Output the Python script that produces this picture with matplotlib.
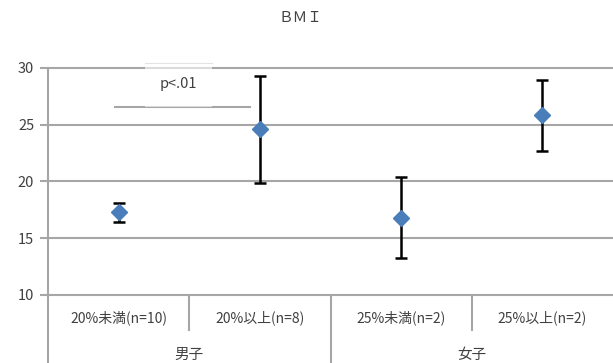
import matplotlib
matplotlib.use("Agg")
import matplotlib.pyplot as plt
from matplotlib.patches import Rectangle
import matplotlib.transforms as mtransforms

plt.rcParams['font.family'] = ['Noto Sans CJK JP', 'DejaVu Sans']

# BMI by body-fat group
categories = ["20%未満(n=10)", "20%以上(n=8)", "25%未満(n=2)", "25%以上(n=2)"]
groups = ["男子", "女子"]
means = [17.3, 24.6, 16.8, 25.9]
upper = [18.1, 29.3, 20.4, 28.9]
lower = [16.4, 19.9, 13.3, 22.7]
yticks = [10, 15, 20, 25, 30]

GRID = "#a6a6a6"
W, H, DPI = 613, 363, 100

fig = plt.figure(figsize=(W / DPI, H / DPI), dpi=DPI)
ax = fig.add_axes([48 / W, 1 - 295 / H, 1 - 48 / W, (295 - 68) / H])

x = [i + 0.5 for i in range(len(categories))]
err = [[m - lo for m, lo in zip(means, lower)], [hi - m for m, hi in zip(means, upper)]]
ax.errorbar(x, means, yerr=err, fmt="none", ecolor="black", elinewidth=1.8,
            capsize=4.5, capthick=1.8, zorder=3)
ax.plot(x, means, ls="none", marker="D", ms=8, color="#4a7ebb", mec="#4a7ebb", zorder=4)

ax.set_xlim(0, len(categories))
ax.set_ylim(10, 30)
ax.set_yticks(yticks)
ax.set_xticks([])
for v in yticks:
    ax.axhline(v, color=GRID, lw=1.5, zorder=1, clip_on=False)
for s in ["top", "right", "bottom"]:
    ax.spines[s].set_visible(False)
ax.spines["left"].set_color(GRID)
ax.spines["left"].set_linewidth(1.5)
ax.tick_params(axis="y", length=6, width=1.5, color=GRID, labelsize=10.5,
               labelcolor="#404040", pad=4)

# two-level category axis below the plot
bt = mtransforms.blended_transform_factory(ax.transData, ax.transAxes)
ax_h = (295 - 68)
y_sub = -(330 - 295) / ax_h
y_bot = -(H - 295) / ax_h
ax.plot([0, 0], [0, y_bot], transform=bt, color=GRID, lw=1.5, clip_on=False)
for i in range(1, len(categories)):
    y_end = y_bot if i % 2 == 0 else y_sub
    ax.plot([i, i], [0, y_end], transform=bt, color=GRID, lw=1.5, clip_on=False)
for xi, lab in zip(x, categories):
    ax.text(xi, -(318 - 295) / ax_h, lab, transform=bt, ha="center", va="center",
            fontsize=10, color="#404040")
for j, g in enumerate(groups):
    ax.text(2 * j + 1, -(355 - 295) / ax_h, g, transform=bt, ha="center", va="center",
            fontsize=10.5, color="#404040")

# significance marker between the two boys' groups
bx0 = (115 - 48) / 141
bx1 = (250 - 48) / 141
ax.plot([bx0, bx1], [26.6, 26.6], color=GRID, lw=1.5, zorder=2)
ax.add_patch(Rectangle(((145 - 48) / 141, 26.6), (212 - 145) / 141, 30.45 - 26.6,
                       facecolor="white", edgecolor="none", alpha=0.6,
                       zorder=2.5, clip_on=False))
ax.plot([(145 - 48) / 141, (212 - 48) / 141], [30.45, 30.45], color="#e3e3e3",
        lw=0.8, clip_on=False, zorder=2.6)
ax.text((178 - 48) / 141, 28.6, "p<.01", ha="center", va="center", fontsize=10.5,
        color="#404040", zorder=3)

fig.text(300 / W, 1 - 18 / H, "ＢＭＩ", ha="center", va="center", fontsize=10.5,
         color="#404040")

fig.savefig("out.png", dpi=DPI)
